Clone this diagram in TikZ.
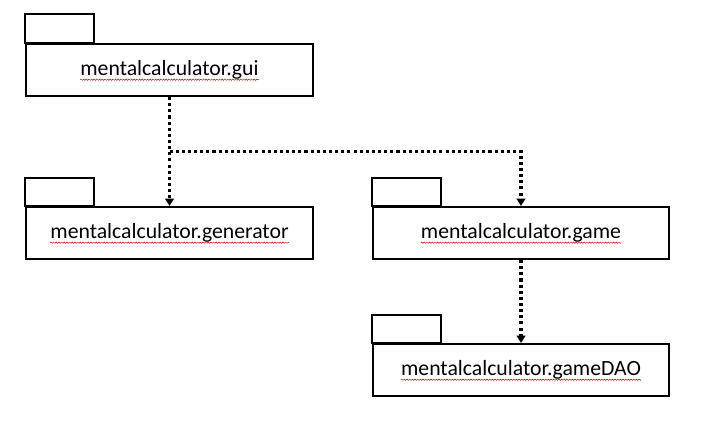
\documentclass[tikz,border=0pt]{standalone}
\usepackage{fontspec}
\setmainfont{Carlito}
\usetikzlibrary{arrows.meta}
\usetikzlibrary{calc}
\usetikzlibrary{decorations.pathmorphing}
\tikzset{
   pkg/.style={draw=black, line width=1.6pt, minimum height=39pt, inner sep=0pt},
   pkgtext/.style={inner sep=0pt, font=\fontsize{16.3}{18}\selectfont},
   tab/.style={draw=black, line width=1.6pt},
   squiggle/.style={draw=red!80!black, line width=0.35pt, decorate,
      decoration={snake, amplitude=0.5pt, segment length=2pt}},
   dep/.style={draw=black, line width=2.4pt, dash pattern=on 2.3pt off 2.3pt,
      -{Triangle[width=6.5pt,length=5.5pt]}},
    }

\begin{document}
\begin{tikzpicture}[x=0.75pt, y=-0.75pt]
            \useasboundingbox (0,0) rectangle (713,435);
            % packages
            \node[pkg, minimum width=215pt] (gui) at (169.5,70) {};
            \node[pkg, minimum width=215pt] (generator) at (169.5,233) {};
            \node[pkg, minimum width=222pt] (game) at (521,233) {};
            \node[pkg, minimum width=222pt] (gamedao) at (521,370) {};
            \draw[tab] (gui.north west) rectangle ++(69,-29);
            \draw[tab] (generator.north west) rectangle ++(69,-28);
            \draw[tab] (game.north west) rectangle ++(69,-28);
            \draw[tab] (gamedao.north west) rectangle ++(69,-28);
            % names
            \node[pkgtext] (guitext) at (gui) {mentalcalculator.gui};
            \node[pkgtext] (generatortext) at (generator) {mentalcalculator.generator};
            \node[pkgtext] (gametext) at (game) {mentalcalculator.game};
            \node[pkgtext] (gamedaotext) at (gamedao) {mentalcalculator.gameDAO};
            \draw[squiggle] ([yshift=-3pt]guitext.base west) -- ([yshift=-3pt]guitext.base east);
            \draw[squiggle] ([yshift=-3pt]generatortext.base west) -- ([yshift=-3pt]generatortext.base east);
            \draw[squiggle] ([yshift=-3pt]gametext.base west) -- ([yshift=-3pt]gametext.base east);
            \draw[squiggle] ([yshift=-3pt]gamedaotext.base west) -- ([yshift=-3pt]gamedaotext.base east);
            % dependencies
            \coordinate (split) at ($(gui.south)!0.5!(generator.north)$);
            \draw[dep] (gui.south) -- (generator.north);
            \draw[dep] (split) -| (game.north);
            \draw[dep] (game.south) -- (gamedao.north);
        \end{tikzpicture}
\end{document}
